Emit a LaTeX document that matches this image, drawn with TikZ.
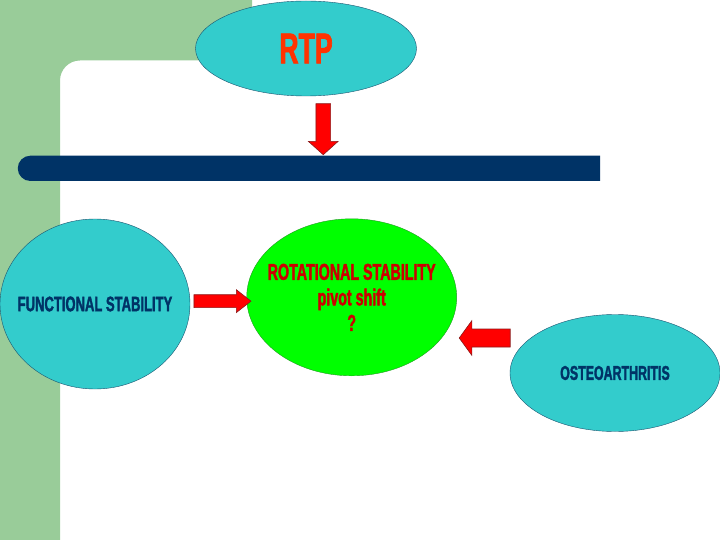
\documentclass[tikz,border=0pt]{standalone}
\usepackage{fontspec}
\newfontfamily\condfont[FakeStretch=0.62,FakeBold=1.6]{Liberation Sans Bold}
\usepackage{tikz}
\usetikzlibrary{positioning,shapes.geometric,shapes.arrows,calc}

\definecolor{bggreen}{HTML}{99CC99}
\definecolor{barblue}{HTML}{003366}
\definecolor{tealfill}{HTML}{33CCCC}
\definecolor{tealline}{HTML}{1A5470}
\definecolor{limefill}{HTML}{00FF00}
\definecolor{limeline}{HTML}{229922}
\definecolor{arrowred}{HTML}{FF0000}
\definecolor{arrowline}{HTML}{8B1A1A}
\definecolor{rtpred}{HTML}{FF3300}
\definecolor{rotred}{HTML}{CC0000}

\tikzset{
  bubble/.style={ellipse, draw=tealline, fill=tealfill, inner sep=0pt},
  blockarrow/.style={single arrow, draw=arrowline, fill=arrowred, inner sep=0pt, line width=0.6pt},
}

\begin{document}
\begin{tikzpicture}[x=1pt, y=-1pt]
        \useasboundingbox (0,0) rectangle (720,540);
        % background
        \fill[bggreen] (0,0) -- (252,0) -- (252,60.5) -- (80,60.5)
            arc[start angle=270, end angle=180, radius=20] -- (60,540) -- (0,540) -- cycle;
        \fill[barblue] (600,155.7) -- (30.4,155.7)
            arc[start angle=270, end angle=90, radius=12.65] -- (600,181) -- cycle;
        \coordinate (bar) at (317.5,155.7);

        \node[bubble, minimum width=221, minimum height=95] (rtp) at (306,48.5) {};
        \node[font=\condfont\fontsize{43}{46}\selectfont, text=rtpred] (rtp-text) at (rtp.center) {RTP};
        \node[bubble, minimum width=190, minimum height=170] (func) at (95,304) {};
        \node[font=\condfont\fontsize{21}{24}\selectfont, text=barblue] (func-text) at (func.center) {FUNCTIONAL STABILITY};
        \node[ellipse, draw=limeline, fill=limefill, inner sep=0pt, minimum width=210, minimum height=157] (rot) at (351.7,297.3) {};
        \node[align=center, font=\condfont\fontsize{23}{25.5}\selectfont, text=rotred] (rot-text) at (rot.center) {ROTATIONAL STABILITY\\pivot shift\\?};
        \node[bubble, minimum width=210, minimum height=117] (osteo) at (615,373) {};
        \node[font=\condfont\fontsize{20}{22}\selectfont, text=barblue] (osteo-text) at (osteo.center) {OSTEOARTHRITIS};

        \node[blockarrow, shape border rotate=270, minimum height=51, minimum width=29, inner xsep=7pt, single arrow head extend=7.5pt, single arrow tip angle=96] (down) at ($(rtp.south)!0.5!(bar)+(11.5,0)$) {};
        \node[blockarrow, minimum height=57, minimum width=22.4, inner ysep=6.15pt, single arrow head extend=5pt, single arrow tip angle=76] (right) at ($(func.east)!0.5!(rot.west)+(0,0.5)$) {};
        \node[blockarrow, shape border rotate=180, minimum height=51, minimum width=34, inner ysep=8.7pt, single arrow head extend=8.3pt, single arrow tip angle=108] (left) at (488,338) {};
    \end{tikzpicture}
\end{document}
